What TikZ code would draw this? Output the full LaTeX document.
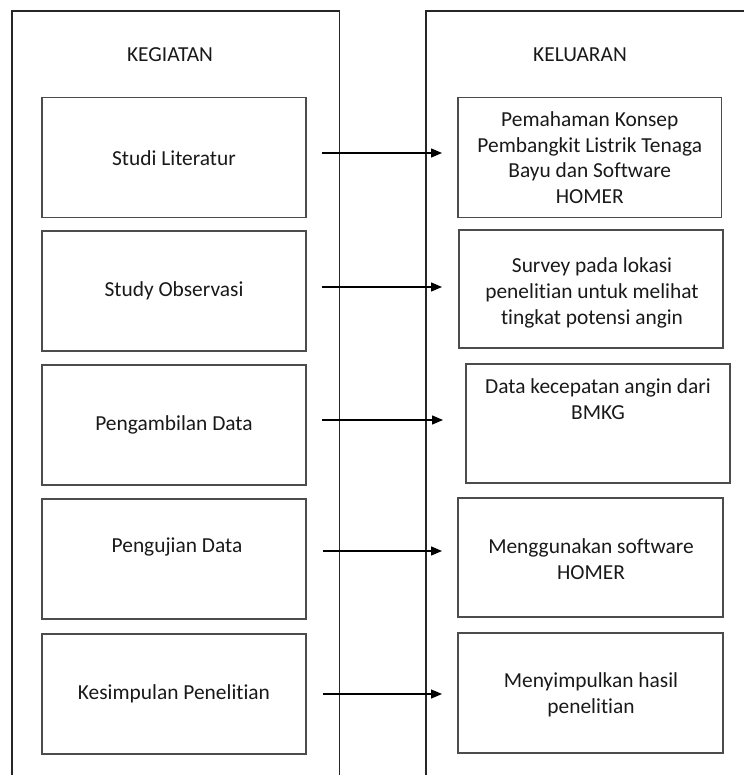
\documentclass[tikz,border=0pt]{standalone}
\usepackage{fontspec}
\setmainfont{Carlito}[Ligatures=NoCommon]
\usetikzlibrary{arrows.meta}
\begin{document}
\begin{tikzpicture}[x=1pt,y=-1pt,
  colline/.style={draw=black!85,line width=1.8pt},
  boxnode/.style={draw=black!70,line width=1.2pt,inner sep=0pt,align=center,
    font=\fontsize{21.4}{25.8}\selectfont,text=black!90},
  txt/.style={inner sep=0pt,align=center,font=\fontsize{21.4}{25.8}\selectfont,text=black!90},
  flow/.style={line width=1.3pt,-{Triangle[length=11pt,width=9pt]}}]
\useasboundingbox (0,0) rectangle (743,775);
% columns
\draw[colline] (12,776) -- (12,11) -- (339.5,11) -- (339.5,776);
\draw[colline] (426,776) -- (426,11) -- (744,11);
\node[txt] (hk) at (170,55) {KEGIATAN};
\node[txt] (hl) at (580,55) {KELUARAN};
% left boxes
\node[boxnode,minimum width=264pt,minimum height=120pt] (L1) at (174,157.7) {Studi Literatur};
\node[boxnode,minimum width=264pt,minimum height=120pt] (L2) at (174,291) {Study Observasi};
\node[boxnode,minimum width=264pt,minimum height=120pt] (L3) at (174,425) {Pengambilan Data};
\node[boxnode,minimum width=264pt,minimum height=120pt] (L4) at (174,559) {};
\node[txt] (L4t) at (177,547) {Pengujian Data};
\node[boxnode,minimum width=264pt,minimum height=120pt] (L5) at (174,694) {Kesimpulan Penelitian};
% right boxes
\node[boxnode,minimum width=263.5pt,minimum height=120pt] (R1) at (589.75,157.7) {Pemahaman Konsep\\Pembangkit Listrik Tenaga\\Bayu dan Software\\HOMER};
\node[boxnode,minimum width=264pt,minimum height=118pt] (R2) at (591,289) {};
\node[txt] (R2t) at (592,293) {Survey pada lokasi\\penelitian untuk melihat\\tingkat potensi angin};
\node[boxnode,minimum width=264pt,minimum height=119pt] (R3) at (598,423.5) {};
\node[txt] (R3t) at (598,399.5) {Data kecepatan angin dari\\BMKG};
\node[boxnode,minimum width=265pt,minimum height=119pt] (R4) at (590.5,557.5) {};
\node[txt] (R4t) at (591,559.5) {Menggunakan software\\HOMER};
\node[boxnode,minimum width=265pt,minimum height=120pt] (R5) at (590.5,693) {};
\node[txt] (R5t) at (591,694.5) {Menyimpulkan hasil\\penelitian};
% arrows
\coordinate (a1s) at (322,153); \coordinate (a1e) at (442,153);
\coordinate (a2s) at (322,287); \coordinate (a2e) at (442,287);
\coordinate (a3s) at (322,420); \coordinate (a3e) at (443,420);
\coordinate (a4s) at (323,551); \coordinate (a4e) at (442,551);
\coordinate (a5s) at (323,694); \coordinate (a5e) at (442,694);
\draw[flow] (a1s) -- (a1e);
\draw[flow] (a2s) -- (a2e);
\draw[flow] (a3s) -- (a3e);
\draw[flow] (a4s) -- (a4e);
\draw[flow] (a5s) -- (a5e);
\end{tikzpicture}
\end{document}
